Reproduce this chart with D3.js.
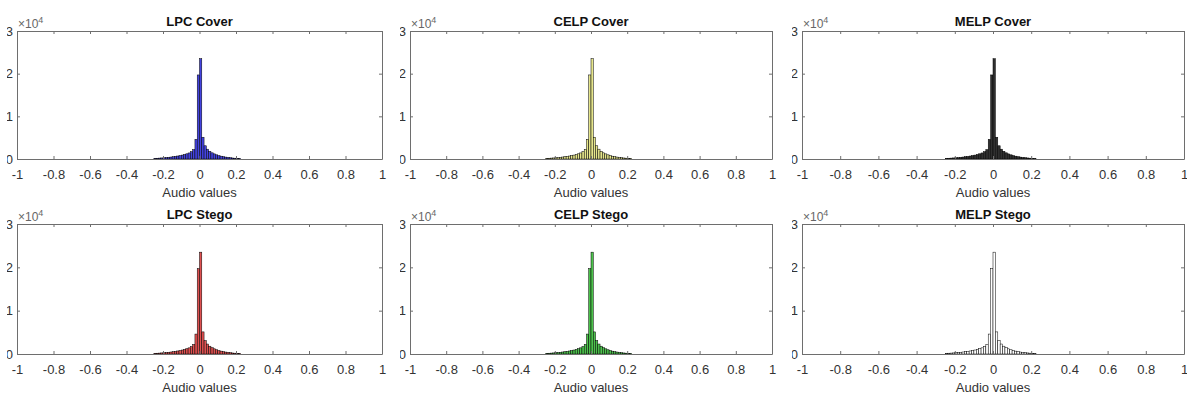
<!DOCTYPE html>
<html>
<head>
<meta charset="utf-8">
<script src="https://cdn.jsdelivr.net/npm/d3@7"></script>
<style>
  body { margin: 0; background: #fff; }
  text { font-family: "Liberation Sans", Arial, sans-serif; }
</style>
</head>
<body>
<svg id="chart" width="1187" height="397"></svg>
<script>
// panel titles and bar fills, row by row
const titles = ['LPC Cover', 'CELP Cover', 'MELP Cover', 'LPC Stego', 'CELP Stego', 'MELP Stego'];
const fills = ['#4343e0', '#e6e68c', '#303030', '#e05050', '#4cc44c', '#ffffff'];

// histogram bin edges (audio value) and counts
const binEdges = [-0.25, -0.2375, -0.225, -0.2125, -0.2, -0.1875, -0.175, -0.1625, -0.15, -0.1375,
  -0.125, -0.1125, -0.1, -0.0875, -0.075, -0.0625, -0.05, -0.0375, -0.025, -0.0125, 0,
  0.0125, 0.025, 0.0375, 0.05, 0.0625, 0.075, 0.0875, 0.1, 0.1125, 0.125, 0.1375, 0.15,
  0.1625, 0.175, 0.1875, 0.2, 0.2125, 0.225];
const binCounts = [150, 180, 210, 250, 290, 340, 400, 460, 530, 610,
  700, 800, 920, 1060, 1220, 1420, 1700, 2200, 4600, 19700,
  23500, 5100, 3100, 2300, 1800, 1450, 1200, 980, 800, 660,
  540, 450, 370, 300, 240, 190, 150, 120];

const xTicks = [-1, -0.8, -0.6, -0.4, -0.2, 0, 0.2, 0.4, 0.6, 0.8, 1];
const yTicks = [0, 10000, 20000, 30000];

const cols = [[17, 382], [410, 772], [802, 1184]];
const rows = [[31, 159], [224, 354]];

const svg = d3.select('#chart');
const axisColor = '#6e6e6e';
const textColor = '#333';

titles.forEach((title, i) => {
  const [left, right] = cols[i % 3];
  const [top, bottom] = rows[Math.floor(i / 3)];

  const x = d3.scaleLinear().domain([-1, 1]).range([left, right]);
  const y = d3.scaleLinear().domain([0, 30000]).range([bottom, top]);

  const clipId = 'clip' + i;
  svg.append('clipPath').attr('id', clipId)
    .append('rect')
    .attr('x', left - 10).attr('y', 0)
    .attr('width', right - left + 40).attr('height', 397);

  const g = svg.append('g').attr('clip-path', `url(#${clipId})`);

  // bars
  g.append('g').selectAll('rect')
    .data(binCounts)
    .join('rect')
    .attr('x', (d, k) => x(binEdges[k]))
    .attr('width', (d, k) => x(binEdges[k + 1]) - x(binEdges[k]))
    .attr('y', d => y(d))
    .attr('height', d => bottom - y(d))
    .attr('fill', fills[i])
    .attr('stroke', '#000')
    .attr('stroke-width', 0.5);

  const fmtX = d => String(+d.toFixed(1));

  const bottomAxis = g.append('g')
    .attr('transform', `translate(0,${bottom})`)
    .call(d3.axisBottom(x).tickValues(xTicks).tickFormat(fmtX).tickSizeInner(-3).tickSizeOuter(0).tickPadding(11));
  const topAxis = g.append('g')
    .attr('transform', `translate(0,${top})`)
    .call(d3.axisTop(x).tickValues(xTicks).tickFormat('').tickSizeInner(-3).tickSizeOuter(0));
  const leftAxis = g.append('g')
    .attr('transform', `translate(${left},0)`)
    .call(d3.axisLeft(y).tickValues(yTicks).tickFormat(d => d / 10000).tickSizeInner(-3).tickSizeOuter(0).tickPadding(4));
  const rightAxis = g.append('g')
    .attr('transform', `translate(${right},0)`)
    .call(d3.axisRight(y).tickValues(yTicks).tickFormat('').tickSizeInner(-3).tickSizeOuter(0));

  [bottomAxis, topAxis, leftAxis, rightAxis].forEach(a => {
    a.select('.domain').attr('stroke', axisColor);
    a.selectAll('.tick line').attr('stroke', axisColor);
    a.selectAll('.tick text').attr('fill', textColor).attr('font-size', 13)
      .attr('font-family', '"Liberation Sans", Arial, sans-serif');
  });

  // title
  g.append('text')
    .attr('x', (left + right) / 2).attr('y', top - 5)
    .attr('text-anchor', 'middle')
    .attr('font-size', 13).attr('font-weight', 'bold')
    .attr('fill', '#111')
    .text(title);

  // exponent label
  const ex = g.append('text')
    .attr('x', left + 1).attr('y', top - 3)
    .attr('font-size', 12).attr('fill', '#666');
  ex.append('tspan').text('\u00d710');
  ex.append('tspan').attr('dy', -5).attr('font-size', 9).text('4');

  // x label
  g.append('text')
    .attr('x', (left + right) / 2).attr('y', bottom + 38)
    .attr('text-anchor', 'middle')
    .attr('font-size', 13).attr('fill', textColor)
    .text('Audio values');
});
</script>
</body>
</html>
